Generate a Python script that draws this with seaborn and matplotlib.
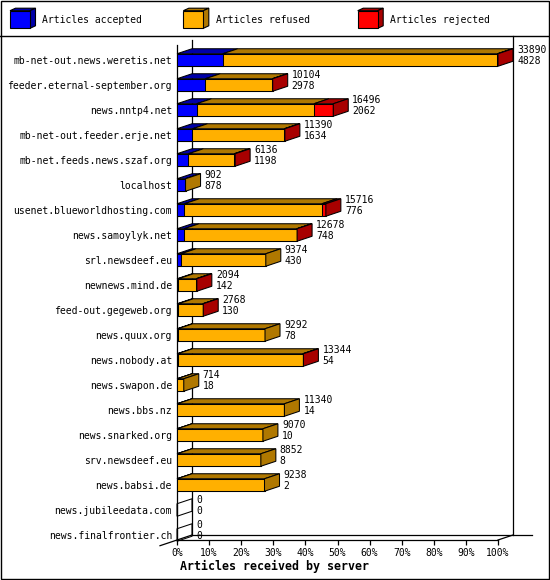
import numpy as np
import pandas as pd
import matplotlib
matplotlib.use("Agg")
import matplotlib.pyplot as plt
import seaborn as sns
from matplotlib.patches import Polygon, Rectangle

# ---------------- data ----------------
servers = [
    "mb-net-out.news.weretis.net", "feeder.eternal-september.org", "news.nntp4.net",
    "mb-net-out.feeder.erje.net", "mb-net.feeds.news.szaf.org", "localhost",
    "usenet.blueworldhosting.com", "news.samoylyk.net", "srl.newsdeef.eu",
    "newnews.mind.de", "feed-out.gegeweb.org", "news.quux.org", "news.nobody.at",
    "news.swapon.de", "news.bbs.nz", "news.snarked.org", "srv.newsdeef.eu",
    "news.babsi.de", "news.jubileedata.com", "news.finalfrontier.ch",
]
offered = [33890, 10104, 16496, 11390, 6136, 902, 15716, 12678, 9374, 2094,
           2768, 9292, 13344, 714, 11340, 9070, 8852, 9238, 0, 0]
accepted = [4828, 2978, 2062, 1634, 1198, 878, 776, 748, 430, 142,
            130, 78, 54, 18, 14, 10, 8, 2, 0, 0]
rejected = [60, 40, 2040, 60, 100, 0, 420, 40, 0, 80,
            50, 0, 70, 0, 0, 0, 0, 0, 0, 0]
series_names = ["Articles accepted", "Articles refused", "Articles rejected"]
tick_values = list(range(0, 101, 10))
tick_labels = [f"{v}%" for v in tick_values]
x_title = "Articles received by server"

front_colors = ["#0000ff", "#ffb000", "#ff0000"]
shade_colors = ["#0000a8", "#b07800", "#a80000"]

# ---------------- derived ----------------
offered_a = np.array(offered, float)
accepted_a = np.array(accepted, float)
rejected_a = np.array(rejected, float)
refused_a = offered_a - accepted_a - rejected_a
scale = 100.0 / offered_a.max()
df = pd.DataFrame({
    "server": servers,
    "acc": accepted_a * scale,
    "acc_ref": (accepted_a + refused_a) * scale,
    "all": offered_a * scale,
})

plt.rcParams["font.family"] = ["DejaVu Sans Mono", "DejaVu Sans"]
plt.rcParams["font.size"] = 7

W, H = 550, 580
fig = plt.figure(figsize=(W / 100, H / 100), dpi=100)

# overlay for frame / legend (pixel coordinates)
ov = fig.add_axes([0, 0, 1, 1])
ov.set_xlim(0, W)
ov.set_ylim(H, 0)
ov.axis("off")
ov.add_patch(Rectangle((0.5, 0.5), W - 1.5, H - 1.5, fill=False, ec="black", lw=1.0))
ov.plot([0, W], [35.5, 35.5], color="black", lw=1.0)

leg_x = [10, 183.3, 357.7]
for k in range(3):
    x0 = leg_x[k]
    y0, y1 = 10.7, 28.3
    w = 20
    ddx, ddy = 5.5, 2.5
    ov.add_patch(Polygon([(x0, y0), (x0 + w, y0), (x0 + w + ddx, y0 - ddy), (x0 + ddx, y0 - ddy)],
                         closed=True, fc=shade_colors[k], ec="black", lw=0.8))
    ov.add_patch(Polygon([(x0 + w, y0), (x0 + w, y1), (x0 + w + ddx, y1 - ddy), (x0 + w + ddx, y0 - ddy)],
                         closed=True, fc=shade_colors[k], ec="black", lw=0.8))
    ov.add_patch(Rectangle((x0, y0), w, y1 - y0, fc=front_colors[k], ec="black", lw=0.8))
    ov.text(x0 + 32.5, 20, series_names[k], ha="left", va="center", fontsize=7)

# main axes: front plane 0%..100% -> px 177..498, rows -> px 45..540
px0, px1, pyt, pyb = 177, 498, 45, 540
ax = fig.add_axes([px0 / W, (H - pyb) / H, (px1 - px0) / W, (pyb - pyt) / H])
ax.patch.set_visible(False)

ytop_lim, ybot_lim = -0.6, 19.2
ux = (px1 - px0) / 100.0
uy = (pyb - pyt) / (ybot_lim - ytop_lim)
dx = 15 / ux
dy = 5 / uy

for col, c in zip(["all", "acc_ref", "acc"], [front_colors[2], front_colors[1], front_colors[0]]):
    sns.barplot(data=df, y="server", x=col, color=c, saturation=1, orient="h",
                width=0.5, edgecolor="black", linewidth=0.75, errorbar=None, ax=ax, zorder=3)

n = len(servers)
half = 0.25
for i in range(n):
    top, bot = i - half, i + half
    a = accepted_a[i] * scale
    r = refused_a[i] * scale
    j = rejected_a[i] * scale
    segs = [(0, a), (a, a + r), (a + r, a + r + j)]
    last = None
    for k, (x0, x1) in enumerate(segs):
        if x1 > x0:
            ax.add_patch(Polygon([(x0, top), (x1, top), (x1 + dx, top - dy), (x0 + dx, top - dy)],
                                 closed=True, fc=shade_colors[k], ec="black", lw=0.75,
                                 zorder=3, clip_on=False))
            last = k
    end = offered_a[i] * scale
    fc = shade_colors[last] if last is not None else "none"
    ax.add_patch(Polygon([(end, top), (end, bot), (end + dx, bot - dy), (end + dx, top - dy)],
                         closed=True, fc=fc, ec="black", lw=0.75, zorder=3, clip_on=False))
    tx = end + dx + 4 / ux
    ax.text(tx, i - 0.4, str(offered[i]), ha="left", va="center", fontsize=7, clip_on=False)
    ax.text(tx, i + 0.03, str(accepted[i]), ha="left", va="center", fontsize=7, clip_on=False)

# walls / floor
lw = 0.9
back_bot = ybot_lim - dy
ax.plot([dx, dx], [back_bot, ytop_lim - dy], color="black", lw=lw, zorder=0.5, clip_on=False)
ax.plot([100 + dx, 100 + dx], [back_bot, ytop_lim - 9 / uy], color="black", lw=lw, zorder=0.5, clip_on=False)
ax.plot([dx, (532 - px0) / ux], [back_bot, back_bot], color="black", lw=lw, zorder=0.5, clip_on=False)
ax.plot([100, 100 + dx], [ybot_lim, back_bot], color="black", lw=lw, zorder=0.5, clip_on=False)
ax.plot([-17 / ux, dx], [ybot_lim + 5.7 / uy, back_bot], color="black", lw=lw, zorder=0.5, clip_on=False)

ax.set_xlim(0, 100)
ax.set_ylim(ybot_lim, ytop_lim)
ax.set_xticks(tick_values)
ax.set_xticklabels(tick_labels)
ax.set_xlabel("")
ax.set_ylabel("")
for s in ["top", "right"]:
    ax.spines[s].set_visible(False)
for s in ["left", "bottom"]:
    ax.spines[s].set_linewidth(lw)
ax.tick_params(axis="x", length=3.6, width=lw, pad=2.2, labelsize=7)
ax.tick_params(axis="y", length=0, pad=3.6, labelsize=7)

fig.text(275 / W, 1 - 566.7 / H, x_title, ha="center", va="center",
         fontsize=8.4, fontweight="bold")

fig.savefig("out.png", dpi=100)
